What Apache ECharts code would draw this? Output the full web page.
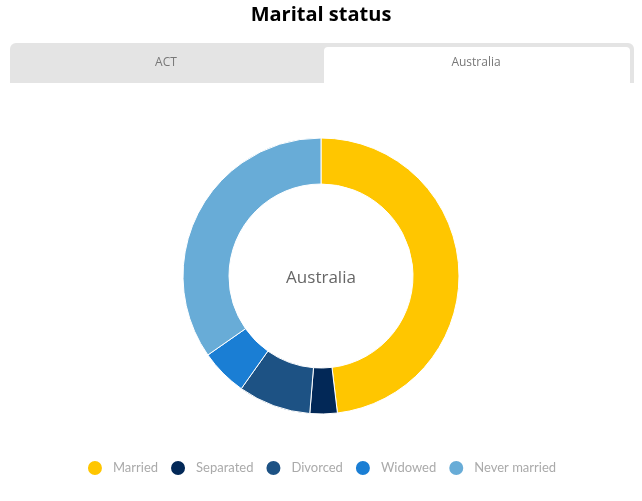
<!DOCTYPE html>
<html><head><meta charset="utf-8">
<script src="https://cdn.jsdelivr.net/npm/echarts@6/dist/echarts.min.js"></script>
<style>html,body{margin:0;padding:0;background:#fff}#c{width:642px;height:501px}</style>
</head><body><div id="c"></div>
<script>
const title = 'Marital status';
const tabs = ['ACT', 'Australia'];
const categories = ['Married', 'Separated', 'Divorced', 'Widowed', 'Never married'];
const values = [48.1, 3.2, 8.5, 5.5, 34.7];
const colors = ['#FFC600', '#022857', '#1D5284', '#1A7ED4', '#68ACD7'];
const centerLabel = 'Australia';
const FONT = '"Open Sans", "Noto Sans", sans-serif';
const FONT2 = 'Lato, "Open Sans", sans-serif';

const chart = echarts.init(document.getElementById('c'), null, {renderer: 'canvas'});
chart.setOption({
  animation: false,
  title: {text: title, left: 'center', top: 0,
    textStyle: {fontFamily: FONT, fontSize: 20, fontWeight: 'bold', color: '#000'}},
  graphic: [
    {type: 'rect', shape: {x: 10, y: 43, width: 624, height: 40, r: [6, 6, 0, 0]},
      style: {fill: '#e4e4e4'}, z: 0},
    {type: 'rect', shape: {x: 324, y: 47, width: 306, height: 36, r: [4, 4, 0, 0]},
      style: {fill: '#fff'}, z: 1},
    {type: 'text', x: 166, y: 63, style: {text: tabs[0], fill: '#777', font: '12px ' + FONT, align: 'center', verticalAlign: 'middle'}, z: 2},
    {type: 'text', x: 476, y: 63, style: {text: tabs[1], fill: '#777', font: '12px ' + FONT, align: 'center', verticalAlign: 'middle'}, z: 2},
    {type: 'text', x: 321, y: 278, style: {text: centerLabel, fill: '#666', font: '17px ' + FONT, align: 'center', verticalAlign: 'middle'}, z: 2}
  ],
  legend: {
    bottom: 19, left: 'center', icon: 'circle', itemWidth: 16, itemHeight: 16, itemGap: 11,
    textStyle: {fontFamily: FONT2, fontSize: 13, color: '#aaa', padding: [0, 0, 0, 5]},
    data: categories
  },
  color: colors,
  series: [{
    type: 'pie', radius: [92, 138], center: [321, 276], startAngle: 90, clockwise: true,
    label: {show: false}, labelLine: {show: false},
    itemStyle: {borderColor: '#fff', borderWidth: 1},
    emphasis: {disabled: true},
    data: categories.map((n, i) => ({name: n, value: values[i]}))
  }]
});
</script></body></html>
